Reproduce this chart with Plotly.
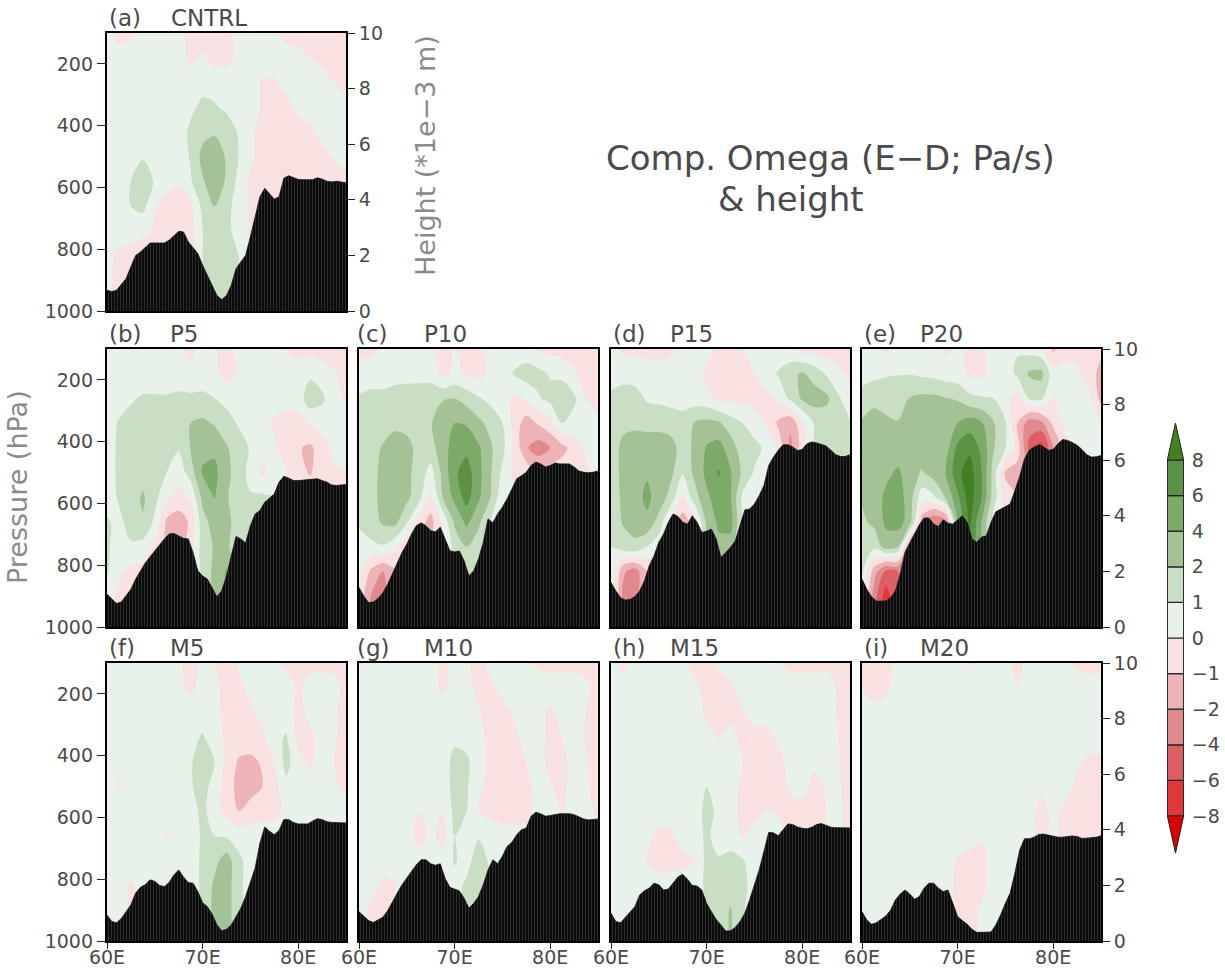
import numpy as np
import plotly.graph_objects as go

W, H = 1225, 974
LONS = [60, 61.25, 62.5, 63.75, 65, 66.25, 67.5, 68.75, 70, 71.25, 72.5, 73.75, 75, 76.25, 77.5, 78.75, 80, 81.25, 82.5, 83.75, 85]
PRESS = [100, 180, 260, 340, 420, 500, 580, 660, 740, 820, 900, 1000]
TLONS = [60 + 0.5 * i for i in range(51)]

TERRAIN_A = [933,937,933,912,895,857,820,809,793,780,780,780,780,771,758,742,744,776,795,814,852,885,922,950,963,950,917,863,841,820,760,695,630,603,620,638,630,570,562,567,574,575,575,575,569,573,580,582,580,582,585]
TERRAIN_B = [894,910,924,919,900,878,845,818,793,773,753,732,715,699,697,705,713,715,759,818,835,845,872,902,883,835,770,707,715,728,672,634,623,596,583,569,531,512,518,526,526,525,524,523,520,526,531,540,542,540,539]
TERRAIN_C = [872,900,921,919,908,889,862,829,793,759,732,699,672,663,672,688,692,677,715,753,757,754,786,835,818,780,726,650,663,634,612,585,553,520,510,499,477,466,472,482,477,469,472,472,472,482,495,499,501,499,495]
TERRAIN_D = [856,883,905,913,910,902,883,851,802,770,726,699,661,634,642,661,667,640,661,694,690,683,715,775,759,742,721,672,621,618,602,575,542,477,450,428,410,410,417,429,425,407,401,404,408,414,428,442,448,448,442]
TERRAIN_E = [845,878,902,916,916,916,905,883,829,759,728,696,669,647,647,667,675,653,664,667,653,640,661,715,726,709,705,661,627,618,609,602,558,512,455,428,417,410,417,428,425,407,393,396,403,412,425,442,450,449,445]
TERRAIN_F = [916,937,941,927,905,883,845,826,818,802,807,820,824,811,786,770,793,811,813,840,876,889,913,948,967,962,948,921,894,856,813,764,683,631,645,656,642,607,607,616,621,621,621,612,604,607,614,616,616,617,618]
TERRAIN_G = [905,919,934,940,932,923,902,872,845,818,797,777,753,737,737,750,755,750,797,826,832,838,862,894,878,856,818,770,737,750,726,694,680,656,640,634,596,583,588,596,594,590,588,588,588,591,598,605,608,607,605]
TERRAIN_H = [910,937,941,923,908,889,851,837,829,813,818,835,832,811,793,784,800,820,822,835,878,905,930,948,968,967,956,937,910,867,818,770,710,648,650,659,640,621,623,631,635,637,632,623,620,627,632,633,634,634,634]
TERRAIN_I = [905,932,946,941,930,919,900,867,848,835,848,865,856,829,813,813,829,840,835,878,921,934,946,962,972,972,972,971,948,916,878,845,780,705,669,669,664,655,654,657,661,664,664,661,660,662,668,667,666,664,659]

OMEGA_A = [
 [.3,-.4,-.2,.3,.4,.4,.3,-.3,-.3,-.3,-.3,.3,.4,.4,.2,-.3,-.4,-.5,-.5,-.5,-.6],
 [.5,.5,.5,.5,.5,.5,.4,-.2,.1,-.3,-.3,.3,.5,.5,.5,.4,.3,0,-.3,-.5,-.6],
 [.5,.5,.5,.5,.5,.5,.5,.5,.7,.6,.5,.5,.4,-.1,-.1,.3,.4,.5,.4,0,-.4],
 [.5,.5,.5,.5,.5,.5,.5,.8,1.2,1.1,.8,.5,.4,-.1,-.5,-.4,.3,.4,.4,.4,.3],
 [.5,.5,.5,.5,.5,.5,.5,1.2,1.7,1.9,1.6,.9,.3,-.5,-.7,-1,-.5,-.2,.3,.4,.3],
 [.5,.5,.6,.9,.6,.5,.4,1.1,2.6,3,1.9,1.0,.2,-.4,-.5,-.5,-.5,-.5,-.3,.1,.3],
 [.5,.5,1.0,1.6,.9,.4,.1,.9,1.9,3,1.9,.7,-.2,-.4,-.5,-.5,-.5,-.5,-.5,-.4,-.2],
 [.5,.5,1.0,1.3,.1,-.4,-.5,-.2,1.3,2.1,1.3,.6,-.1,-.4,-.5,-.5,-.5,-.5,-.5,-.4,-.2],
 [.4,.4,.6,.3,-.2,-.6,-.8,-.5,1.0,1.4,1.3,.6,-.1,-.4,-.5,-.5,-.5,-.5,-.5,-.4,-.2],
 [.3,-.2,-.6,-.7,-.7,-.7,-.7,-.6,1.0,1.5,1.5,1.0,-.1,-.4,-.5,-.5,-.5,-.5,-.5,-.4,-.2],
 [.3,-.4,-.7,-.7,-.7,-.7,-.7,-.6,1.0,1.5,1.5,1.0,-.1,-.4,-.5,-.5,-.5,-.5,-.5,-.4,-.2],
 [.3,-.4,-.7,-.7,-.7,-.7,-.7,-.6,1.0,1.5,1.5,1.0,-.1,-.4,-.5,-.5,-.5,-.5,-.5,-.4,-.2],
]
OMEGA_B = [
 [.3,.4,.4,.4,.4,.4,.3,-.3,.3,.1,-.3,.3,.4,.4,.4,-.1,-.3,-.4,-.4,-.5,-.5],
 [.5,.5,.5,.5,.5,.5,.5,.3,.5,.2,-.3,.1,.5,.5,.5,.5,.5,.8,.5,.1,-.4],
 [.4,.5,.9,1.1,1.1,1.1,1.2,1.2,1.2,1.0,.7,.5,.4,.4,.3,.3,.5,1.6,1.2,.3,-.1],
 [.5,1.1,1.3,1.4,1.5,1.5,1.6,2.0,2.4,1.9,1.4,.9,.5,.3,-.1,-.3,-.4,.1,.4,.5,.5],
 [.5,1.2,1.4,1.5,1.5,1.3,1.1,2.1,3.5,3.6,2.2,1.5,.9,.3,.1,-.3,-.9,-1.2,-.4,.2,.3],
 [.5,1.2,1.4,1.5,1.4,1.0,.4,1.5,4.2,4.5,2.6,1.5,.7,-.2,.3,0,-.6,-1.1,-.4,-.1,-.1],
 [.6,1.1,1.5,2.3,1.3,.2,-.3,.1,2.6,4.1,2.3,1.2,1.1,1.2,1,-.3,-.3,-.3,-.3,-.3,-.3],
 [1.1,.8,1.3,1.9,.8,-1.2,-1.6,-.8,1.6,3,3.2,1.1,1.1,1.1,.5,-.3,-.3,-.3,-.3,-.3,-.3],
 [1.2,.4,.9,.6,-.2,-1.2,-1.4,-.5,1.5,2.2,2.6,1.1,1,1,.5,-.3,-.3,-.3,-.3,-.3,-.3],
 [1.1,.2,-.3,-.4,-.4,-.8,-1,-.5,1.5,2.4,4.2,1.5,1,1,.5,-.3,-.3,-.3,-.3,-.3,-.3],
 [.3,-.2,-.4,-.4,-.4,-.8,-1,-.5,1.5,2.4,4.2,1.5,1,1,.5,-.3,-.3,-.3,-.3,-.3,-.3],
 [.3,-.2,-.4,-.4,-.4,-.8,-1,-.5,1.5,2.4,4.2,1.5,1,1,.5,-.3,-.3,-.3,-.3,-.3,-.3],
]
OMEGA_C = [
 [-.3,-.3,.2,.4,.5,.5,.3,-.3,.1,-.2,-.2,.3,.4,.4,.4,-.1,-.3,-.4,-.4,-.5,-.5],
 [.5,.5,.5,.5,.5,.5,.5,-.3,.2,-.1,-.3,.2,.4,1.1,1.5,1.3,.9,.7,.1,-.3,-.4],
 [1.1,1.3,1.3,1.6,1.7,1.8,1.8,1.9,2.0,1.6,1.1,.7,.4,-.2,.1,.9,1.3,1.8,1.2,0,-.3],
 [1.5,1.5,1.5,1.7,1.8,1.8,1.9,3.5,4.0,3.8,2.5,1.7,1.0,-.4,-1.5,-.9,-.3,1.0,.6,.4,.2],
 [1.5,1.6,2.2,3.2,2.4,1.8,1.6,3.2,4.8,5.4,4.3,2.3,1.3,-.2,-1.9,-3,-2,-1.3,-.6,.3,.4],
 [1.4,1.6,2.6,3.6,2.5,1.6,.6,2.6,5.6,7,4.6,2.2,.8,-.3,-.3,-1,-.5,-.5,-.5,-.3,.4],
 [1.3,1.6,2.7,3.2,2.5,1.4,-.3,2,4.6,6.8,4.4,2.0,.3,.2,-.3,-.5,-.5,-.5,-.5,-.3,-.3],
 [1.2,1.5,2.3,2.6,1.1,-.4,-1.4,.2,2.3,4.5,2.4,1.0,.5,.2,-.3,-.5,-.5,-.5,-.5,-.3,-.3],
 [.5,.8,.9,.3,-.8,-1.5,-1,-.5,1.5,2,1.5,1,.5,.2,-.3,-.5,-.5,-.5,-.5,-.3,-.3],
 [.2,-1.2,-2,-1.2,-1,-1.5,-1,-.5,1.2,1.5,1.2,1,.5,.2,-.3,-.5,-.5,-.5,-.5,-.3,-.3],
 [-.3,-2,-2.6,-1.5,-1,-1.5,-1,-.5,1.2,1.5,1.2,1,.5,.2,-.3,-.5,-.5,-.5,-.5,-.3,-.3],
 [-.3,-2,-2.6,-1.5,-1,-1.5,-1,-.5,1.2,1.5,1.2,1,.5,.2,-.3,-.5,-.5,-.5,-.5,-.3,-.3],
]
OMEGA_D = [
 [.3,-.2,-.3,-.2,-.2,-.1,.3,.3,.3,-.1,-.2,-.1,.4,.6,.4,.2,-.4,-.4,-.5,-.5,-.5],
 [.4,.6,.6,.3,.2,.2,.2,.4,-.2,-.4,-.4,-.3,0,.5,1.1,1.7,2.3,1.6,.9,.2,-.2],
 [1.3,1.5,1.4,.9,.8,.7,.6,.5,.3,-.2,-.3,-.3,-.4,-.3,.2,1.2,2.3,3.0,2.6,1.2,.3],
 [1.3,1.7,1.7,1.6,1.6,1.5,1.4,2.1,2.6,2.3,1.5,1.0,.5,-.1,-1.2,-1.8,-.2,1.1,1.3,1.4,1.1],
 [1.4,2.6,3.4,3.4,3.4,2.9,1.5,2.4,4.2,4.8,3.0,1.5,1.3,.8,-.2,-2.5,-.5,1,1.2,1.4,1.1],
 [1.4,2.6,3.4,3.8,3.4,2.5,1.1,2.5,4.5,6.2,4.2,1.8,.9,.4,-.2,-1,-.5,.5,1,1,1],
 [1.3,2.5,3.3,4.4,3.3,1.6,-.2,1.6,3.6,5.0,4.2,.8,.9,1.1,-.2,-1,-.5,.5,1,1,1],
 [1.2,2.2,2.7,3.6,1.6,-.2,-1.5,-.5,2.4,4.4,4.8,1,.9,1.1,-.2,-1,-.5,.5,1,1,1],
 [1.0,1.5,1.8,1.0,.4,-.5,-1.5,-.5,1.8,3.4,3,1,.9,1.1,-.2,-1,-.5,.5,1,1,1],
 [1.0,-1.8,-3,-1,-.5,-.5,-1.5,-.5,1.8,3.4,3,1,.9,1.1,-.2,-1,-.5,.5,1,1,1],
 [1.0,-2.5,-3,-1,-.5,-.5,-1.5,-.5,1.8,3.4,3,1,.9,1.1,-.2,-1,-.5,.5,1,1,1],
 [1.0,-2.5,-3,-1,-.5,-.5,-1.5,-.5,1.8,3.4,3,1,.9,1.1,-.2,-1,-.5,.5,1,1,1],
]
OMEGA_E = [
 [.3,.2,-.2,.4,.4,.5,.5,-.2,.3,-.2,-.1,.4,.5,.9,.6,.3,-1.2,-.3,-.2,-.4,-.7],
 [.5,.7,.9,.95,.95,.8,.7,.5,.4,-.2,-.2,.3,.5,1.2,2.3,2.6,.4,.3,.1,-.4,-1.4],
 [1.5,1.8,1.6,1.6,2.1,2.5,2.5,2.1,1.9,1.3,1.1,1.0,.4,-.5,1.1,1.2,-.1,.4,.4,.2,-1.3],
 [2.2,2.6,2.4,2.1,2.8,3,3,3,4,5,4.2,2.2,1.1,-1,-3.2,-2.6,-.8,.3,.4,.4,0],
 [2.3,2.7,3,3,3,3,2.8,3.0,6.5,7.5,5.5,2.2,1,-.4,-4.6,-7,-2,-.5,.3,.4,.3],
 [2.3,2.7,3.5,4.3,3,1.9,3,4,7.5,9,6,1.6,-1.2,-1.5,-2,-3,-2,-.5,.3,.4,.3],
 [2.2,3,4.4,5,3,.4,.8,2.2,5.5,9,6,1.5,-.4,-1,-2,-3,-2,-.5,.3,.4,.3],
 [1.8,2.5,4.4,5,3,-1.5,-4,-3,4,8.5,4,.6,-.3,-1,-2,-3,-2,-.5,.3,.4,.3],
 [1.2,1.2,3,2,-2.5,-3,-4,-3,4,8,4,.6,-.3,-1,-2,-3,-2,-.5,.3,.4,.3],
 [1.2,-1.5,-4.5,-4,-2,-3,-4,-3,4,8,4,.6,-.3,-1,-2,-3,-2,-.5,.3,.4,.3],
 [1.0,-3,-7,-4,-2,-3,-4,-3,4,8,4,.6,-.3,-1,-2,-3,-2,-.5,.3,.4,.3],
 [1.0,-3,-7,-4,-2,-3,-4,-3,4,8,4,.6,-.3,-1,-2,-3,-2,-.5,.3,.4,.3],
]
OMEGA_F = [
 [.5,.5,.5,.5,.5,.5,.1,-.3,.2,0,-.4,.1,.4,.4,.2,-.2,-.3,-.3,-.3,-.3,-.3],
 [.5,.5,.5,.5,.5,.5,.3,-.2,.3,.3,-.4,-.3,.3,.5,.5,.5,-.2,.4,.5,.3,-.3],
 [.5,.5,.5,.5,.5,.5,.5,.5,.5,.4,-.4,-.4,-.2,.3,.5,.5,-.3,.2,.5,.1,-.3],
 [.5,.5,.5,.5,.5,.5,.5,.7,1.1,.5,-.2,-.5,-.5,-.2,.7,1.1,-.3,-.2,.4,.1,-.3],
 [.4,.1,.5,.5,.5,.5,.5,.9,1.5,1.0,-.3,-1.1,-1.2,-.9,-.1,1.4,.3,-.2,.5,0,-.3],
 [.3,-.1,.5,.5,.5,.5,.5,.9,1.4,.6,-.5,-1.3,-1.4,-1.0,-.3,.7,1.0,.4,.5,.2,-.3],
 [.5,.5,.5,.5,.5,.5,.1,.5,1.3,.4,-.3,-1.0,-.6,-.4,-.3,.2,.6,.5,.5,.5,.5],
 [.5,.5,.5,.5,.4,-.1,.4,0,1.3,1.0,.9,.5,.5,.5,.5,.5,.5,.5,.5,.5,.5],
 [.5,.5,.5,.5,.5,.5,.5,.5,1.2,1.7,3,1.3,.5,.5,.5,.5,.5,.5,.5,.5,.5],
 [.4,.3,-.1,.3,.5,.5,.5,.5,1.2,2.4,3,1.3,.5,.5,.5,.5,.5,.5,.5,.5,.5],
 [.4,.3,-.1,.3,.5,.5,.5,.5,1.2,2.6,3,1.3,.5,.5,.5,.5,.5,.5,.5,.5,.5],
 [.4,.3,-.1,.3,.5,.5,.5,.5,1.2,2.6,3,1.3,.5,.5,.5,.5,.5,.5,.5,.5,.5],
]
OMEGA_G = [
 [.5,.5,.5,.5,.5,.5,.4,-.3,.3,.1,-.3,.3,.4,.4,.2,-.2,-.3,-.3,-.3,-.4,-.4],
 [.5,.5,.5,.5,.5,.5,.4,-.2,.4,.4,-.3,-.2,.3,.5,.5,.5,.5,.5,.5,.2,-.4],
 [.5,.5,.5,.5,.5,.5,.5,.5,.6,.5,.1,-.4,-.4,.1,.4,.4,-.2,.3,.5,0,-.4],
 [.5,.5,.5,.5,.5,.5,.5,.5,.8,.6,.3,-.3,-.4,-.2,.3,.4,-.3,0,.5,-.1,-.4],
 [.5,.5,.5,.5,.5,.5,.5,.5,1.3,1.2,.4,-.3,-.4,-.4,0,.4,-.3,-.3,.4,.1,-.4],
 [.5,.5,.5,.5,.5,.5,.5,.5,1.3,1.1,.3,-.4,-.5,-.5,-.2,.2,.1,-.3,.5,.1,-.3],
 [.5,.5,.5,.5,.5,0,.4,0,1.3,1.0,0,-.3,-.4,-.4,-.3,.3,.5,-.1,.5,.4,-.3],
 [.5,.5,.5,.5,.5,-.4,.2,-.3,1.0,.5,.9,.6,.4,.3,.3,.3,.5,.5,.5,.5,.5],
 [.5,.5,.5,.5,.5,.5,.4,.3,1.1,.6,1.6,.8,.4,.3,.3,.3,.5,.5,.5,.5,.5],
 [.5,.4,-.2,-.1,.5,.5,.4,.3,.6,1.2,1.8,1.0,.4,.3,.3,.3,.5,.5,.5,.5,.5],
 [.5,-.3,-.3,.3,.5,.5,.4,.3,.6,1.3,2.2,1.0,.4,.3,.3,.3,.5,.5,.5,.5,.5],
 [.5,-.3,-.3,.3,.5,.5,.4,.3,.6,1.3,2.2,1.0,.4,.3,.3,.3,.5,.5,.5,.5,.5],
]
OMEGA_H = [
 [.4,-.3,.3,.4,.4,.4,.2,-.3,-.3,.1,.4,.4,.4,.4,.1,-.3,-.3,-.3,-.2,-.3,-.4],
 [.5,.5,.5,.5,.5,.5,.5,.2,-.3,-.3,-.2,.4,.5,.5,.5,.5,.5,.5,.4,-.1,-.4],
 [.5,.5,.5,.5,.5,.5,.5,.5,-.2,-.4,-.3,-.1,.5,.5,.5,.5,.5,.5,.5,-.1,-.4],
 [.5,.5,.5,.5,.5,.5,.5,.5,.3,-.05,.3,-.3,-.4,-.4,.2,.5,.5,.5,.5,0,-.4],
 [.5,.5,.5,.5,.5,.5,.5,.5,.5,.5,.4,0,-.4,-.5,-.3,.3,.4,.2,.4,.1,-.4],
 [.5,.5,.5,.5,.5,.5,.5,.5,1.0,.6,.4,-.2,-.5,-.5,-.4,.1,.3,-.3,.1,.1,-.3],
 [.5,.5,.5,.5,.5,.5,.5,.5,1.3,.8,.4,-.3,-.4,0,-.1,-.3,-.3,-.4,0,.2,-.3],
 [.5,.5,.5,.3,-.3,-.2,.4,.5,1.2,.6,.5,-.1,.4,.4,.4,-.3,-.3,-.4,0,.2,-.3],
 [.5,.5,.5,-.1,-.4,-.4,-.3,0,1.3,1.1,1.3,1.1,.5,.4,.4,-.3,-.3,-.4,0,.2,-.3],
 [.5,.5,.5,.5,.5,.5,.5,.5,1.2,1.3,1.5,1.3,.6,.4,.4,-.3,-.3,-.4,0,.2,-.3],
 [.5,.5,.5,.5,.5,.5,.5,.5,1,1.3,2.2,1.1,.6,.4,.4,-.3,-.3,-.4,0,.2,-.3],
 [.5,.5,.5,.5,.5,.5,.5,.5,1,1.3,2.2,1.1,.6,.4,.4,-.3,-.3,-.4,0,.2,-.3],
]
OMEGA_I = [
 [-.2,-.3,-.3,.3,.4,.4,.4,.4,.3,-.1,.4,.4,.3,-.3,.3,.4,.1,.2,-.2,-.3,-.3],
 [0,-.3,-.2,.4,.4,.4,.4,.4,.4,.4,.4,.4,.4,0,.4,.4,.4,.4,.4,.4,.4],
 [.4,.2,.4,.5,.5,.5,.5,.5,.5,.5,.5,.5,.5,.5,.5,.5,.5,.5,.5,.5,.5],
 [.5,.5,.5,.5,.5,.5,.5,.5,.5,.5,.5,.5,.5,.5,.5,.5,.5,.5,.3,.2,.3],
 [.5,.5,.5,.5,.5,.5,.5,.5,.5,.5,.5,.5,.5,.5,.5,.5,.5,.4,.1,-.1,-.1],
 [.5,.5,.5,.5,.5,.5,.5,.5,.5,.5,.5,.5,.5,.5,.5,.2,.4,.3,-.2,-.3,-.3],
 [.5,.5,.5,.5,.5,.5,.5,.5,.5,.5,.5,.5,.5,.5,.3,-.3,.2,-.2,-.3,-.4,-.3],
 [.1,.5,.5,.5,.5,.5,.5,.5,.4,.4,.1,.5,.5,.5,.3,-.3,.2,-.2,-.3,-.4,-.3],
 [.4,.5,.5,.5,.5,.5,.5,.5,-.1,-.3,-.3,.4,.5,.5,.3,-.3,.2,-.2,-.3,-.4,-.3],
 [.5,.5,.5,.5,.5,.5,.5,.5,-.3,-.3,-.2,.3,.5,.5,.3,-.3,.2,-.2,-.3,-.4,-.3],
 [.5,.5,.5,.5,.5,.5,.5,.5,-.3,-.3,.1,.1,.5,.5,.3,-.3,.2,-.2,-.3,-.4,-.3],
 [.5,.5,.5,.5,.5,.5,.5,.5,-.3,-.3,.1,.1,.5,.5,.3,-.3,.2,-.2,-.3,-.4,-.3],
]

LEVELS = [0, 1, 2, 4, 6, 8, 10]
CBAR_LABELS = ["\u22128", "\u22126", "\u22124", "\u22122", "\u22121", "0", "1", "2", "4", "6", "8"]
COLORS = ["#dc0000", "#e2363b", "#dd5f65", "#e08a8e", "#edb3b6", "#f9e1e2",
          "#e9f2ea", "#c9dfc4", "#a3c396", "#7cab69", "#5b9245", "#43801f"]

FONT = "DejaVu Sans"
TXT = "#4a4a4a"


def xf(px):
    return px / W


def yf(py):
    return 1 - py / H


def idx(values):
    a = np.array(values, float)
    return np.sign(a) * np.interp(np.abs(a), LEVELS, range(len(LEVELS)))


scale = []
for i, c in enumerate(COLORS):
    scale += [[i / 12, c], [(i + 1) / 12, c]]

PW, PH = 239, 278
PANELS = [
    (OMEGA_A, TERRAIN_A, "(a)", "CNTRL", 107, 33, 107, 169, True, False, True),
    (OMEGA_B, TERRAIN_B, "(b)", "P5", 107, 349, 107, 168, True, False, False),
    (OMEGA_C, TERRAIN_C, "(c)", "P10", 359, 349, 355, 422, False, False, False),
    (OMEGA_D, TERRAIN_D, "(d)", "P15", 611, 349, 611, 668, False, False, False),
    (OMEGA_E, TERRAIN_E, "(e)", "P20", 862, 349, 862, 918, False, False, True),
    (OMEGA_F, TERRAIN_F, "(f)", "M5", 107, 663, 107, 168, True, True, False),
    (OMEGA_G, TERRAIN_G, "(g)", "M10", 359, 663, 355, 422, False, True, False),
    (OMEGA_H, TERRAIN_H, "(h)", "M15", 611, 663, 611, 668, False, True, False),
    (OMEGA_I, TERRAIN_I, "(i)", "M20", 862, 663, 862, 918, False, True, True),
]

fig = go.Figure()
layout = {}
ann = []
right_n = 20
tickfont = dict(family=FONT, size=19, color=TXT)

for n, (om, ter, lab, name, x0, y0, lx, tx, left, bottom, right) in enumerate(PANELS, 1):
    assert all(len(r) == 21 for r in om), lab
    assert len(om) == 12 and len(ter) == 51, lab
    s = "" if n == 1 else str(n)
    xa, ya = "x" + s, "y" + s
    fig.add_trace(go.Contour(
        x=LONS, y=PRESS, z=idx(om).tolist(), xaxis=xa, yaxis=ya,
        autocontour=False, contours=dict(start=-5, end=5, size=1, coloring="fill", showlines=False),
        line=dict(width=0, smoothing=0.9), colorscale=scale, zmin=-6, zmax=6,
        showscale=False, hoverinfo="skip"))
    fig.add_trace(go.Scatter(x=TLONS, y=[1000] * 51, xaxis=xa, yaxis=ya, mode="lines",
                             line=dict(width=0), showlegend=False, hoverinfo="skip"))
    fig.add_trace(go.Scatter(x=TLONS, y=ter, xaxis=xa, yaxis=ya, mode="lines",
                             line=dict(width=0.8, color="#111111"), fill="tonexty",
                             fillcolor="#0c0c0c",
                             fillpattern=dict(shape="|", size=3, solidity=0.35,
                                              fgcolor="#505050", bgcolor="#0a0a0a"),
                             showlegend=False, hoverinfo="skip"))
    layout["xaxis" + s] = dict(
        domain=[xf(x0), xf(x0 + PW)], range=[60, 85], anchor=ya,
        tickvals=[60, 70, 80] if bottom else [], ticktext=["60E", "70E", "80E"] if bottom else [],
        ticks="outside" if bottom else "", ticklen=6, tickcolor="#222", tickfont=tickfont,
        ticklabelstandoff=-8 if bottom else 0,
        showgrid=False, zeroline=False, showline=True, mirror=True, linecolor="black", linewidth=2.4)
    layout["yaxis" + s] = dict(
        domain=[yf(y0 + PH), yf(y0)], range=[1000, 100], anchor=xa,
        tickvals=[200, 400, 600, 800, 1000] if left else [],
        ticks="outside" if left else "", ticklen=8, tickcolor="#222", tickfont=tickfont,
        showgrid=False, zeroline=False, showline=True, mirror=True, linecolor="black", linewidth=2.4)
    if right:
        right_n += 1
        r = str(right_n)
        fig.add_trace(go.Scatter(x=[60, 85], y=[0, 10], xaxis=xa, yaxis="y" + r, mode="markers",
                                 marker=dict(opacity=0), showlegend=False, hoverinfo="skip"))
        layout["yaxis" + r] = dict(
            domain=[yf(y0 + PH), yf(y0)], range=[0, 10], anchor=xa, overlaying=ya, side="right",
            tickvals=[0, 2, 4, 6, 8, 10], ticks="outside", ticklen=8, tickcolor="#222",
            tickfont=tickfont, showgrid=False, zeroline=False, showline=False)
    ann.append(dict(text=lab, x=xf(lx), y=yf(y0 - 15), xref="paper", yref="paper", xanchor="left",
                    yanchor="middle", showarrow=False, font=dict(family=FONT, size=23, color=TXT)))
    ann.append(dict(text=name, x=xf(tx), y=yf(y0 - 15), xref="paper", yref="paper", xanchor="left",
                    yanchor="middle", showarrow=False, font=dict(family=FONT, size=23, color=TXT)))

# colour bar on its own small axes
band = list(range(-6, 6))
fig.add_trace(go.Bar(x=[0] * 10, y=[1] * 10, base=band[1:11], width=1, xaxis="x40", yaxis="y40",
                     marker=dict(color=COLORS[1:11], line=dict(color="#222222", width=1.2)),
                     showlegend=False, hoverinfo="skip"))
fig.add_trace(go.Scatter(x=[-.5, .5, 0, -.5], y=[5, 5, 6.04, 5], xaxis="x40", yaxis="y40", mode="lines",
                         fill="toself", fillcolor=COLORS[11], line=dict(color="#222222", width=1),
                         showlegend=False, hoverinfo="skip"))
fig.add_trace(go.Scatter(x=[-.5, .5, 0, -.5], y=[-5, -5, -6.04, -5], xaxis="x40", yaxis="y40", mode="lines",
                         fill="toself", fillcolor=COLORS[0], line=dict(color="#222222", width=1),
                         showlegend=False, hoverinfo="skip"))
layout["xaxis40"] = dict(domain=[xf(1167), xf(1184)], range=[-.52, .52], anchor="y40", visible=False)
layout["yaxis40"] = dict(domain=[yf(853), yf(423)], range=[-6.04, 6.04], anchor="x40", side="right",
                         tickvals=list(range(-5, 6)), ticktext=CBAR_LABELS, ticks="outside", ticklen=3,
                         tickcolor="rgba(0,0,0,0)", tickfont=tickfont, showgrid=False, zeroline=False,
                         showline=False)

lab_font = dict(family=FONT, size=27, color="#8a8a8a")
title_font = dict(family=FONT, size=34, color=TXT)
common = dict(xref="paper", yref="paper", xanchor="center", yanchor="middle", showarrow=False)
ann += [
    dict(text="Pressure (hPa)", x=xf(17), y=yf(487), textangle=-90, font=lab_font, **common),
    dict(text="Height (*1e\u22123 m)", x=xf(425), y=yf(156), textangle=-90, font=lab_font, **common),
    dict(text="Comp. Omega (E\u2212D; Pa/s)", x=xf(830), y=yf(158), font=title_font, **common),
    dict(text="&amp; height", x=xf(791), y=yf(199), font=title_font, **common),
]

fig.update_layout(width=W, height=H, margin=dict(l=0, r=0, t=0, b=0, autoexpand=False),
                  paper_bgcolor="white", plot_bgcolor="white", showlegend=False,
                  annotations=ann, **layout)
fig.write_html("out.html", config={"displayModeBar": False},
               post_script="document.body.style.margin='0';")
